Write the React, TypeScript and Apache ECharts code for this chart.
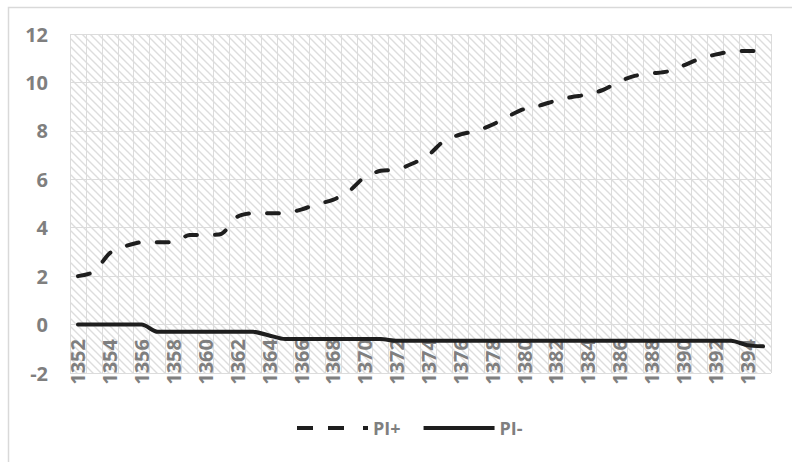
import React, { useEffect, useRef } from "react";
import * as echarts from "echarts";

const years: string[] = [];
for (let y = 1352; y <= 1395; y++) years.push(String(y));

const piPlus = [
  2.0, 2.18, 2.95, 3.24, 3.4, 3.4, 3.4, 3.7, 3.7, 3.75,
  4.45, 4.6, 4.6, 4.6, 4.75, 4.97, 5.15, 5.5, 6.1, 6.35,
  6.4, 6.65, 7.0, 7.6, 7.85, 8.0, 8.25, 8.6, 8.9, 9.05,
  9.25, 9.4, 9.5, 9.7, 10.05, 10.28, 10.37, 10.45, 10.7, 10.97,
  11.15, 11.28, 11.3, 11.3,
];

const piMinus = [
  0, 0, 0, 0, 0, -0.3, -0.3, -0.3, -0.3, -0.3,
  -0.3, -0.3, -0.45, -0.6, -0.6, -0.6, -0.6, -0.6, -0.6, -0.6,
  -0.67, -0.67, -0.67, -0.67, -0.67, -0.67, -0.67, -0.67, -0.67, -0.67,
  -0.67, -0.67, -0.67, -0.67, -0.67, -0.67, -0.67, -0.67, -0.67, -0.67,
  -0.67, -0.67, -0.85, -0.9,
];

const seriesNames = ["PI+", "PI-"];
const yTicks = { min: -2, max: 12, interval: 2 };

function makeHatch(): string {
  const c = document.createElement("canvas");
  const s = 8;
  c.width = s;
  c.height = s;
  const ctx = c.getContext("2d")!;
  ctx.fillStyle = "#ffffff";
  ctx.fillRect(0, 0, s, s);
  ctx.strokeStyle = "#dddddd";
  ctx.lineWidth = 1.4;
  ctx.beginPath();
  ctx.moveTo(-2, -2);
  ctx.lineTo(s + 2, s + 2);
  ctx.moveTo(-2 - s, -2);
  ctx.lineTo(2, s + 2);
  ctx.moveTo(s - 2, -2);
  ctx.lineTo(2 * s + 2, s + 2);
  ctx.stroke();
  return c.toDataURL("image/png");
}

const dashIcon = "path://M0,0h16v4h-16z M31,0h16v4h-16z M66,0h5v4h-5z";
const solidIcon = "path://M0,0h71v4h-71z";

export default function App() {
  const ref = useRef<HTMLDivElement>(null);
  useEffect(() => {
    document.body.style.margin = "0";
    const chart = echarts.init(ref.current!, undefined, { renderer: "svg" });
    const gray = "#7f7f7f";
    const ink = "#1e1e1e";
    const font = "'Open Sans', 'Liberation Sans', Arial, sans-serif";
    chart.setOption({
      animation: false,
      backgroundColor: "#ffffff",
      textStyle: { fontFamily: font },
      graphic: [
        {
          type: "rect",
          left: 6,
          top: 5,
          shape: { width: 800, height: 480 },
          style: { fill: "none", stroke: "#d9d9d9", lineWidth: 1.5 },
          silent: true,
        },
      ],
      grid: {
        left: 70,
        right: 21,
        top: 34,
        bottom: 89,
        show: true,
        borderWidth: 0,
        backgroundColor: { image: makeHatch(), repeat: "repeat" },
      },
      legend: {
        top: 414,
        left: 292,
        itemWidth: 71,
        itemHeight: 4,
        itemGap: 23,
        textStyle: { color: gray, fontSize: 18, fontWeight: "bold", fontFamily: font },
        data: [
          { name: seriesNames[0], icon: dashIcon, itemStyle: { color: ink } },
          { name: seriesNames[1], icon: solidIcon, itemStyle: { color: ink } },
        ],
      },
      xAxis: {
        type: "category",
        data: years,
        boundaryGap: true,
        offset: -48,
        axisLine: { show: false },
        axisTick: { show: false },
        axisLabel: {
          interval: 1,
          rotate: 90,
          margin: 14,
          color: gray,
          fontSize: 20,
          fontWeight: "bold",
          fontFamily: font,
        },
        splitLine: { show: true, interval: 0, lineStyle: { color: "#dcdcdc", width: 1 } },
      },
      yAxis: {
        type: "value",
        min: yTicks.min,
        max: yTicks.max,
        interval: yTicks.interval,
        axisLine: { show: false },
        axisTick: { show: false },
        axisLabel: {
          margin: 22,
          color: gray,
          fontSize: 20,
          fontWeight: "bold",
          fontFamily: font,
        },
        splitLine: { show: true, lineStyle: { color: "#dcdcdc", width: 1 } },
      },
      series: [
        {
          name: seriesNames[0],
          type: "line",
          data: piPlus,
          symbol: "none",
          smooth: 0.25,
          lineStyle: { color: ink, width: 4, type: [12, 18], cap: "round" },
          itemStyle: { color: ink },
        },
        {
          name: seriesNames[1],
          type: "line",
          data: piMinus,
          symbol: "none",
          smooth: 0.25,
          lineStyle: { color: ink, width: 4, type: "solid", cap: "round" },
          itemStyle: { color: ink },
        },
      ],
    });
    return () => chart.dispose();
  }, []);
  return <div ref={ref} style={{ width: 792, height: 462 }} />;
}
